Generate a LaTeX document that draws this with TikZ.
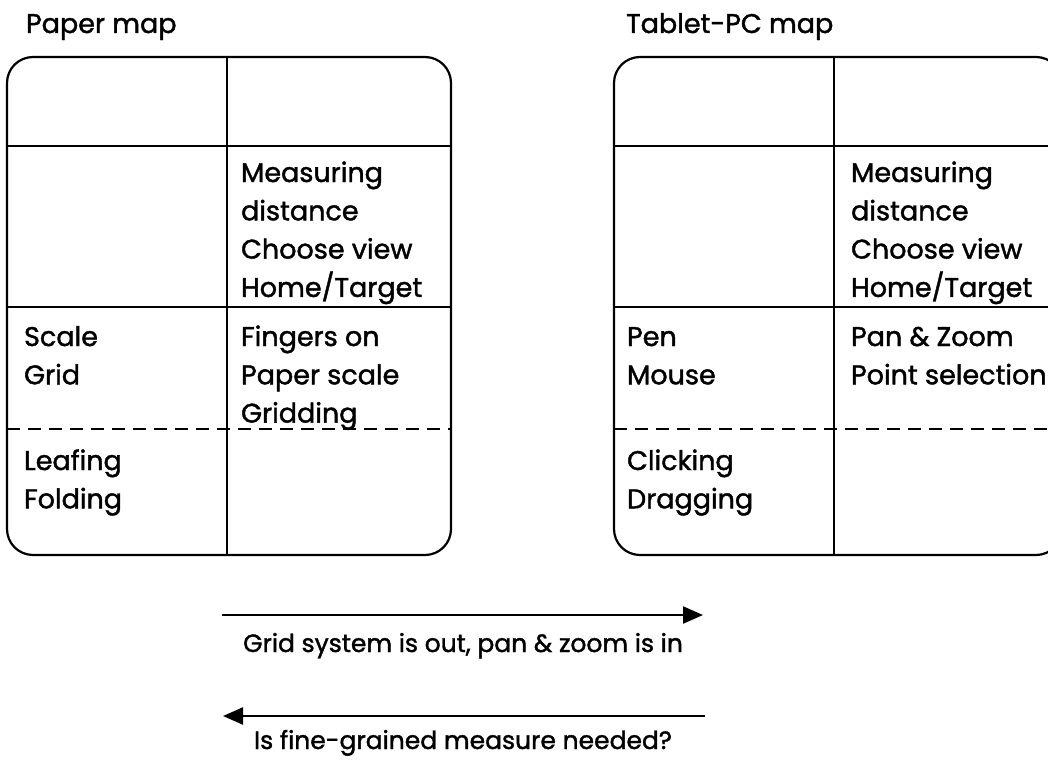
\documentclass[tikz,border=0pt]{standalone}
\usepackage{fontspec}
\setmainfont{Poppins}[FakeBold=1.5]
\usetikzlibrary{arrows.meta}
\newcommand\celltext[1]{\begin{tabular}[t]{@{}l@{}}#1\end{tabular}}
\begin{document}
\begin{tikzpicture}[x=1pt,y=-1pt, line width=2.2pt,
  txt/.style={font=\fontsize{27}{38.3}\selectfont, inner sep=0pt, anchor=base west},
  ctxt/.style={font=\fontsize{25}{30}\selectfont, inner sep=0pt, anchor=base},
  frame/.style={draw, rounded corners=26pt},
  dashline/.style={draw, dash pattern=on 13pt off 8pt},
  arrowline/.style={draw, -{Triangle[length=20pt,width=17pt]}}]
\useasboundingbox (0,0) rectangle (1048,760);
\clip (0,0) rectangle (1048,760);

% ---------- Paper map ----------
\node[txt] (t1) at (25,33) {Paper map};
\draw[frame] (7,57) rectangle (451,555);
\draw (227,57) -- (227,555);
\draw (7,146) -- (451,146);
\draw (7,307) -- (451,307);
\draw[dashline] (7,429) -- (451,429);
\node[txt] (p1) at (240,182) {\celltext{Measuring\\distance\\Choose view\\Home/Target}};
\node[txt] (p2) at (23,346) {\celltext{Scale\\Grid}};
\node[txt] (p3) at (240,346) {\celltext{Fingers on\\Paper scale\\Gridding}};
\node[txt] (p4) at (23,470) {\celltext{Leafing\\Folding}};

% ---------- Tablet-PC map ----------
\node[txt] (t2) at (625,33) {Tablet-PC map};
\draw[frame] (614,57) rectangle (1062,555);
\draw (834,57) -- (834,555);
\draw (614,146) -- (1062,146);
\draw (614,307) -- (1062,307);
\draw[dashline] (614,429) -- (1062,429);
\node[txt] (q1) at (850,182) {\celltext{Measuring\\distance\\Choose view\\Home/Target}};
\node[txt] (q2) at (626,346) {\celltext{Pen\\Mouse}};
\node[txt] (q3) at (850,346) {\celltext{Pan \& Zoom\\Point selection}};
\node[txt] (q4) at (626,470) {\celltext{Clicking\\Dragging}};

% ---------- Arrows ----------
\coordinate (a1s) at (222,615);
\coordinate (a1e) at (703,615);
\draw[arrowline] (a1s) -- (a1e);
\node[ctxt] (l1) at (463,652) {Grid system is out, pan \& zoom is in};

\coordinate (a2s) at (705,716);
\coordinate (a2e) at (223,716);
\draw[arrowline] (a2s) -- (a2e);
\node[ctxt] (l2) at (463,749) {Is fine-grained measure needed?};
\end{tikzpicture}
\end{document}
